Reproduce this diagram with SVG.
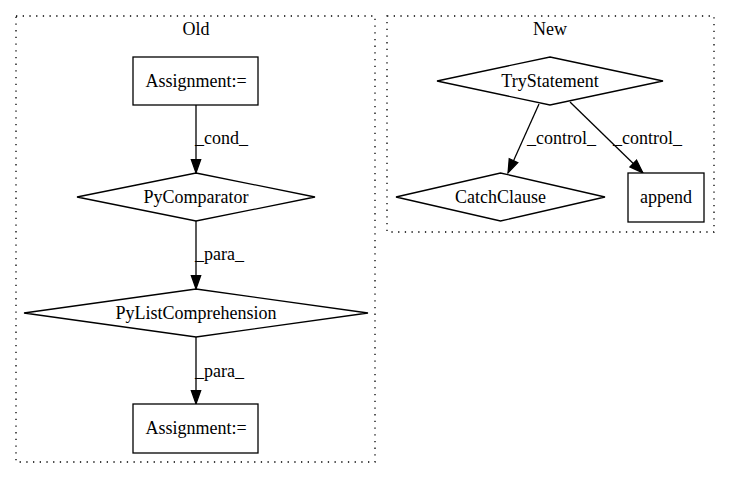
<svg xmlns="http://www.w3.org/2000/svg" width="731" height="480" viewBox="0 0 731 480" font-family="'Liberation Serif', 'Times New Roman', serif" font-size="18">
<defs>
<marker id="arr" markerUnits="userSpaceOnUse" markerWidth="16" markerHeight="12" refX="14.5" refY="6" orient="auto">
<path d="M1,1.3 L14.3,6 L1,10.7 z" fill="#000" stroke="#000" stroke-width="1.3"/>
</marker>
</defs>
<style>
text{font-family:'Liberation Serif','Times New Roman',serif;font-size:18px;fill:#000}
.c{text-anchor:middle}
.cl{fill:none;stroke:#000;stroke-width:1.3;stroke-dasharray:1.3,5.4}
.n{fill:#fff;stroke:#000;stroke-width:1.3}
.e{fill:none;stroke:#000;stroke-width:1.3;marker-end:url(#arr)}
</style>
<rect width="731" height="480" fill="#fff"/>
<g id="cluster_old">
<rect class="cl" x="16" y="16" width="359" height="446"/>
<text class="c" x="196" y="35">Old</text>
</g>
<g id="cluster_new">
<rect class="cl" x="387" y="16" width="327" height="216"/>
<text class="c" x="550" y="35">New</text>
</g>
<g id="edges">
<line class="e" x1="196" y1="105" x2="196" y2="173"/>
<text x="195" y="144">_cond_</text>
<line class="e" x1="196" y1="221" x2="196" y2="289"/>
<text x="195" y="260">_para_</text>
<line class="e" x1="196" y1="337" x2="196" y2="404"/>
<text x="195" y="377">_para_</text>
<line class="e" x1="539" y1="104" x2="508" y2="173"/>
<text x="527" y="144">_control_</text>
<line class="e" x1="570" y1="102" x2="643" y2="173"/>
<text x="613" y="144">_control_</text>
</g>
<g id="assign1">
<rect class="n" x="133" y="57" width="125" height="48"/>
<text class="c" x="196" y="87">Assignment:=</text>
</g>
<g id="pycomparator">
<polygon class="n" points="196,173 315,197 196,221 77,197"/>
<text class="c" x="196" y="203">PyComparator</text>
</g>
<g id="pylistcomp">
<polygon class="n" points="196,289 368,313 196,337 24,313"/>
<text class="c" x="196" y="319">PyListComprehension</text>
</g>
<g id="assign2">
<rect class="n" x="133" y="404" width="125" height="49"/>
<text class="c" x="196" y="434">Assignment:=</text>
</g>
<g id="trystatement">
<polygon class="n" points="550,57 663,81 550,105 437,81"/>
<text class="c" x="550" y="87">TryStatement</text>
</g>
<g id="catchclause">
<polygon class="n" points="500.5,173 605,197 500.5,221 396,197"/>
<text class="c" x="500.5" y="203">CatchClause</text>
</g>
<g id="append">
<rect class="n" x="628" y="173" width="76" height="49"/>
<text class="c" x="666" y="203">append</text>
</g>
</svg>
